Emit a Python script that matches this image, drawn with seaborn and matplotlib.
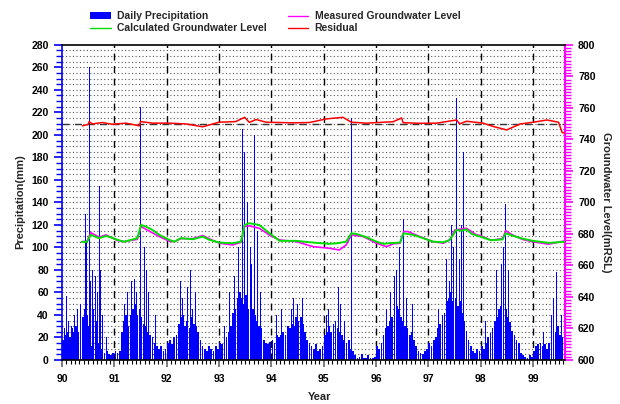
import numpy as np
import pandas as pd
import matplotlib
matplotlib.use("Agg")
import matplotlib.pyplot as plt
from matplotlib.patches import Patch
from matplotlib.lines import Line2D
from matplotlib.ticker import MultipleLocator
import seaborn as sns

# ---------------- data ----------------
# half-month typical precipitation (mm), starting 1990.0, 24 per year
precip_base_1990 = [18, 22, 25, 20, 28, 25, 30, 25, 32, 38, 45, 40, 30, 12, 40, 35, 15, 8, 10, 6, 8, 5, 4, 6]
precip_base_1991 = [8, 6, 8, 25, 35, 40, 30, 40, 45, 50, 40, 45, 38, 32, 30, 25, 22, 20, 15, 12, 10, 12, 8, 10]
precip_base_1992 = [15, 18, 14, 20, 22, 32, 38, 40, 30, 35, 28, 38, 32, 30, 25, 18, 12, 10, 8, 12, 10, 8, 12, 10]
precip_base_1993 = [15, 14, 18, 20, 25, 30, 42, 45, 55, 60, 55, 50, 58, 45, 52, 45, 40, 35, 30, 28, 18, 15, 14, 16]
precip_base_1994 = [18, 15, 22, 20, 22, 25, 22, 30, 28, 32, 30, 38, 35, 38, 32, 25, 18, 15, 12, 10, 14, 8, 10, 12]
precip_base_1995 = [22, 25, 30, 25, 32, 35, 28, 25, 22, 18, 15, 18, 10, 8, 4, 2, 3, 5, 2, 2, 4, 2, 2, 3]
precip_base_1996 = [12, 10, 15, 22, 28, 30, 35, 38, 42, 48, 45, 38, 35, 30, 28, 22, 25, 18, 12, 8, 6, 5, 8, 10]
precip_base_1997 = [15, 12, 18, 20, 28, 32, 40, 42, 52, 55, 60, 52, 55, 48, 52, 42, 35, 26, 18, 12, 8, 6, 10, 8]
precip_base_1998 = [12, 10, 15, 20, 24, 28, 35, 38, 45, 48, 42, 45, 38, 34, 26, 22, 18, 15, 6, 4, 3, 2, 4, 3]
precip_base_1999 = [8, 12, 14, 15, 12, 14, 10, 15, 18, 22, 25, 30, 22, 20, 15]

# individual rain days (decimal year, mm)
spike_years = [90.02, 90.05, 90.08, 90.12, 90.18, 90.24, 90.30, 90.36, 90.40, 90.45, 90.47, 90.52,
               90.55, 90.58, 90.60, 90.64, 90.68, 90.71, 90.74, 90.78, 90.85,
               91.13, 91.20, 91.25, 91.30, 91.33, 91.38, 91.42, 91.45, 91.50, 91.53, 91.57, 91.62,
               91.65, 91.70, 91.78,
               92.10, 92.20, 92.27, 92.30, 92.37, 92.40, 92.45, 92.50, 92.55, 92.60,
               93.10, 93.20, 93.25, 93.30, 93.37, 93.40, 93.45, 93.49, 93.55, 93.60, 93.62, 93.68,
               93.74, 93.80,
               94.05, 94.10, 94.20, 94.30, 94.38, 94.42, 94.50, 94.55, 94.60,
               95.05, 95.10, 95.20, 95.28, 95.32, 95.40, 95.53,
               96.20, 96.28, 96.35, 96.40, 96.45, 96.50, 96.53, 96.58, 96.65, 96.70,
               97.20, 97.30, 97.35, 97.40, 97.44, 97.48, 97.54, 97.57, 97.60, 97.63, 97.67, 97.72,
               97.78,
               98.10, 98.20, 98.30, 98.35, 98.40, 98.44, 98.48, 98.53, 98.58, 98.62,
               99.20, 99.35, 99.40, 99.45, 99.50, 99.55]
spike_mm = [25, 28, 57, 35, 30, 40, 45, 50, 65, 130, 105, 260,
            70, 80, 45, 75, 60, 155, 80, 40, 20,
            72, 50, 60, 55, 70, 72, 60, 130, 225, 215, 100, 80,
            60, 45, 40,
            35, 60, 70, 55, 75, 65, 80, 45, 60, 50,
            30, 60, 70, 75, 100, 90, 205, 185, 140, 100, 85, 200,
            115, 60,
            30, 40, 45, 50, 45, 55, 50, 45, 55,
            40, 45, 60, 65, 50, 35, 215,
            45, 60, 75, 80, 100, 183, 125, 55, 60, 50,
            45, 80, 90, 70, 120, 100, 233, 110, 90, 120, 185, 200,
            60,
            35, 50, 80, 70, 85, 100, 139, 80, 60, 45,
            25, 40, 55, 78, 60, 40]

# calculated groundwater level (mRSL)
calc_t = [90.38, 90.48, 90.55, 90.71, 90.84, 90.93, 91.06, 91.19, 91.32, 91.44, 91.51, 91.60, 91.73,
          91.86, 92.05, 92.15, 92.27, 92.50, 92.69, 92.82, 93.01, 93.26, 93.42, 93.49, 93.58, 93.77,
          94.00, 94.16, 94.48, 94.80, 95.11, 95.27, 95.43, 95.53, 95.63, 95.82, 96.01, 96.14, 96.26,
          96.46, 96.53, 96.71, 96.90, 97.09, 97.29, 97.41, 97.54, 97.64, 97.73, 97.83, 97.99,
          98.20, 98.42, 98.48, 98.60, 98.80, 99.00, 99.30, 99.60]
calc_v = [675.0, 675.0, 679.4, 677.3, 678.7, 677.9, 676.2, 675.1, 676.2, 677.3, 685.7, 684.7, 682.5,
          679.4, 676.2, 675.1, 677.3, 676.6, 678.3, 676.2, 674.5, 674.1, 675.1, 685.7, 686.8, 685.7,
          679.5, 675.6, 675.6, 674.5, 673.7, 674.1, 675.1, 680.4, 680.0, 677.9, 675.1, 673.7, 674.1,
          674.5, 680.4, 679.4, 677.3, 675.1, 674.7, 676.2, 682.5, 682.1, 682.9, 680.0, 678.3,
          676.0, 676.5, 680.4, 679.0, 677.0, 675.6, 674.3, 675.0]

# measured groundwater level (mRSL)
meas_t = [90.38, 90.48, 90.55, 90.71, 90.84, 91.06, 91.19, 91.44, 91.51, 91.60, 91.86, 92.05, 92.15,
          92.27, 92.50, 92.69, 92.82, 93.01, 93.26, 93.42, 93.49, 93.58, 93.77, 94.00, 94.16, 94.48,
          94.80, 95.11, 95.30, 95.43, 95.53, 95.76, 96.01, 96.20, 96.33, 96.46, 96.53, 96.61, 96.84,
          97.09, 97.29, 97.41, 97.51, 97.73, 97.92, 97.99, 98.20, 98.42, 98.48, 98.60, 98.80, 99.00,
          99.30, 99.60]
meas_v = [675.0, 675.5, 680.8, 677.9, 679.4, 675.8, 675.1, 676.6, 684.7, 683.0, 678.3, 675.4, 675.1,
          677.0, 677.0, 679.0, 676.8, 674.1, 673.0, 674.7, 684.7, 685.1, 683.6, 678.5, 676.2, 675.1,
          671.9, 670.9, 669.8, 673.0, 679.4, 678.3, 674.1, 671.9, 673.7, 674.1, 681.5, 681.5, 678.3,
          675.1, 674.1, 676.2, 682.5, 683.6, 679.4, 679.0, 676.0, 677.0, 682.0, 679.5, 676.5, 675.0,
          673.5, 675.5]

# residual curve (plotted on groundwater axis, around the 750 reference)
resid_t = [90.39, 90.50, 90.52, 90.58, 90.77, 90.96, 91.22, 91.48, 91.50, 91.73, 92.05, 92.37, 92.69,
           93.00, 93.32, 93.49, 93.58, 93.71, 93.90, 94.41, 94.73, 95.05, 95.37, 95.53, 95.82, 96.14,
           96.33, 96.49, 96.52, 96.84, 97.16, 97.54, 97.60, 97.73, 98.05, 98.24, 98.50, 98.76, 99.01,
           99.27, 99.49, 99.56, 99.61]
resid_v = [748.6, 749.5, 751.3, 749.8, 750.7, 749.6, 750.3, 748.6, 751.3, 750.3, 750.3, 749.8, 748.0,
           750.9, 751.3, 754.0, 750.8, 752.6, 750.9, 750.5, 750.7, 753.0, 754.0, 750.9, 750.3, 750.9,
           751.2, 753.6, 750.6, 750.2, 750.3, 752.3, 749.8, 751.5, 750.3, 748.2, 746.0, 749.8, 750.9,
           752.3, 750.9, 744.3, 744.0]
resid_ref = 750.0

year_ticks = [90, 91, 92, 93, 94, 95, 96, 97, 98, 99]
year_labels = ["90", "91", "92", "93", "94", "95", "96", "97", "98", "99"]

# ---------------- build frames ----------------
base = (precip_base_1990 + precip_base_1991 + precip_base_1992 + precip_base_1993 +
        precip_base_1994 + precip_base_1995 + precip_base_1996 + precip_base_1997 +
        precip_base_1998 + precip_base_1999)
n = len(base)
centers = 90 + (np.arange(n) + 0.5) / 24.0
df_calc = pd.DataFrame({"t": calc_t, "v": calc_v})
df_meas = pd.DataFrame({"t": meas_t, "v": meas_v})
df_res = pd.DataFrame({"t": resid_t, "v": resid_v})

# ---------------- style ----------------
sns.set_theme(style="white")
plt.rcParams["font.family"] = ["Liberation Sans", "DejaVu Sans"]
plt.rcParams["font.weight"] = "bold"

fig = plt.figure(figsize=(6.2, 4.04), dpi=100)
ax = fig.add_axes([0.100, 0.109, 0.811, 0.780])
ax2 = ax.twinx()

BLUE = "#0000ff"
MAG = "#ff00ff"
GREEN = "#00e000"
RED = "#ff0000"

# grid
ax.set_xlim(90, 99.61)
ax.set_ylim(0, 280)
ax.yaxis.set_major_locator(MultipleLocator(20))
ax.yaxis.set_minor_locator(MultipleLocator(5))
ax.xaxis.set_major_locator(MultipleLocator(1))
ax.xaxis.set_minor_locator(MultipleLocator(1 / 12))
ax.grid(False)
for yv in np.arange(5, 280, 5):
    ax.axhline(yv, color="#555555", lw=0.8, ls=(0, (1.0, 2.13)), zorder=0)
for xv in year_ticks[1:]:
    ax.axvline(xv, color="black", lw=1.0, ls=(0, (5, 4)), zorder=0.5)

# precipitation
ax.bar(centers, base, width=0.8 / 24, color=BLUE, linewidth=0, zorder=2)
ax.bar(spike_years, spike_mm, width=0.014, color=BLUE, linewidth=0, zorder=2)

# groundwater lines
ax2.set_ylim(600, 800)
ax2.axhline(resid_ref, color="#333333", lw=1.0, ls=(0, (5, 4)), zorder=2.5)
sns.lineplot(data=df_res, x="t", y="v", ax=ax2, color=RED, lw=1.1, zorder=3)
sns.lineplot(data=df_meas, x="t", y="v", ax=ax2, color=MAG, lw=1.2, zorder=3)
sns.lineplot(data=df_calc, x="t", y="v", ax=ax2, color=GREEN, lw=1.4, zorder=4)
ax2.yaxis.set_major_locator(MultipleLocator(20))
ax2.yaxis.set_minor_locator(MultipleLocator(2))

# axes styling
ax.set_xticks(year_ticks)
ax.set_xticklabels(year_labels)
for a in (ax, ax2):
    a.set_xlabel("")
    a.set_ylabel("")
ax.tick_params(axis="y", which="both", direction="out", colors=BLUE, labelcolor="black",
               labelsize=7.5, left=True)
ax.tick_params(axis="y", which="major", length=6, width=1.2)
ax.tick_params(axis="y", which="minor", length=4, width=1.0)
ax.tick_params(axis="x", which="major", direction="out", length=5, width=1.2, colors="#666666",
               labelcolor="black", labelsize=7.5, bottom=True, pad=5)
ax.tick_params(axis="x", which="minor", direction="out", length=3, width=0.8, colors="black",
               bottom=True)
ax2.tick_params(axis="y", which="both", direction="out", colors=MAG, labelcolor="black",
                labelsize=7.5, right=True)
ax2.tick_params(axis="y", which="major", length=6, width=1.2)
ax2.tick_params(axis="y", which="minor", length=4, width=1.0)
for lab in ax.get_xticklabels() + ax.get_yticklabels() + ax2.get_yticklabels():
    lab.set_fontweight("bold")

for s in ("top", "bottom"):
    ax2.spines[s].set_color("black")
    ax2.spines[s].set_linewidth(1.2)
ax2.spines["left"].set_color(BLUE)
ax2.spines["left"].set_linewidth(1.2)
ax2.spines["right"].set_color(MAG)
ax2.spines["right"].set_linewidth(1.5)
for s in ax.spines.values():
    s.set_visible(False)

fig.text(0.032, 0.5, "Precipitation(mm)", rotation=90, ha="center", va="center",
         fontsize=8, fontweight="bold")
fig.text(0.978, 0.5, "Groundwater Level(mRSL)", rotation=270, ha="center", va="center",
         fontsize=8, fontweight="bold")
fig.text(0.516, 0.018, "Year", ha="center", va="center", fontsize=8, fontweight="bold")

handles = [Patch(facecolor=BLUE, edgecolor="none", label="Daily Precipitation"),
           Line2D([], [], color=GREEN, lw=1.0, label="Calculated Groundwater Level"),
           Line2D([], [], color=MAG, lw=1.0, label="Measured Groundwater Level"),
           Line2D([], [], color=RED, lw=1.0, label="Residual")]
leg = fig.legend(handles=handles, ncol=2, loc="upper left", bbox_to_anchor=(0.13, 0.995),
                 frameon=False, fontsize=7.5, handlelength=2.0, handletextpad=0.6,
                 columnspacing=2.0, labelspacing=0.2)
for t in leg.get_texts():
    t.set_fontweight("bold")

fig.savefig("out.png", dpi=100)
